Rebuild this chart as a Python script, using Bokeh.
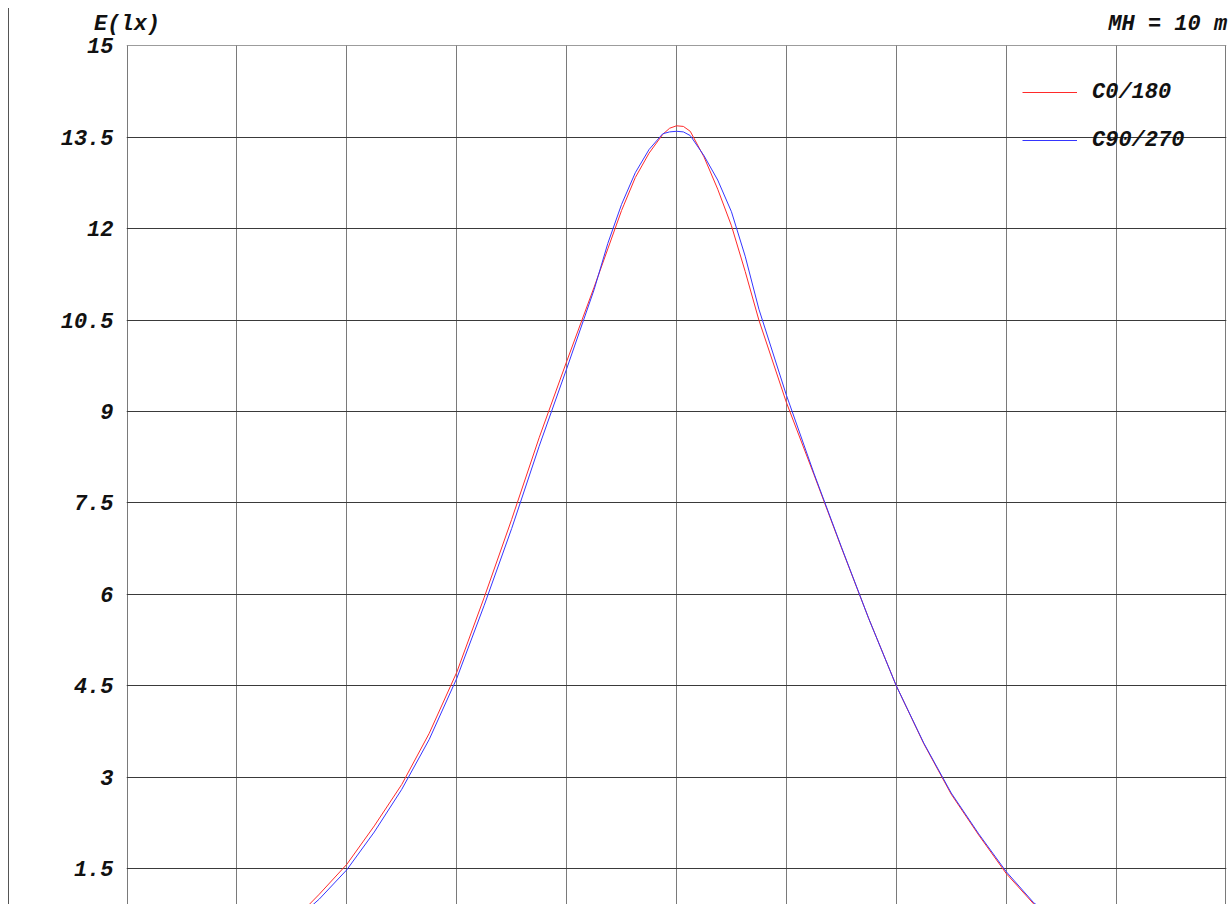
from bokeh.plotting import figure
from bokeh.models import Range1d, FixedTicker, Legend, LegendItem, LinearAxis
from bokeh.embed import file_html
from bokeh.resources import INLINE

# distance from luminaire (grid units) and illuminance values
x_pos = [-3.5, -3.25, -3.0, -2.75, -2.5, -2.25, -2.0, -1.75, -1.5, -1.25, -1.0,
         -0.75, -0.625, -0.5, -0.375, -0.25, -0.125, -0.0625, 0.0, 0.0625, 0.125,
         0.25, 0.375, 0.5, 0.625, 0.75, 1.0, 1.25, 1.5, 1.75, 2.0, 2.25, 2.5,
         2.75, 3.0, 3.25, 3.5]
c0_180 = [0.62, 1.08, 1.57, 2.2, 2.88, 3.72, 4.72, 5.95, 7.23, 8.57, 9.82,
          11.04, 11.67, 12.3, 12.84, 13.24, 13.55, 13.65, 13.69, 13.68, 13.6,
          13.18, 12.65, 12.05, 11.3, 10.5, 9.15, 7.97, 6.77, 5.6, 4.5, 3.55, 2.72,
          2.05, 1.42, 0.92, 0.58]
c90_270 = [0.6, 1.0, 1.48, 2.1, 2.8, 3.62, 4.62, 5.82, 7.08, 8.43, 9.7,
           11.0, 11.76, 12.4, 12.92, 13.3, 13.56, 13.59, 13.6, 13.59, 13.53,
           13.2, 12.8, 12.28, 11.55, 10.68, 9.27, 7.99, 6.78, 5.6, 4.5, 3.56, 2.74,
           2.07, 1.45, 0.94, 0.6]

y_ticks = [1.5, 3, 4.5, 6, 7.5, 9, 10.5, 12, 13.5, 15]
y_tick_labels = ["1.5", "3", "4.5", "6", "7.5", "9", "10.5", "12", "13.5", "15"]
x_grid = [-5, -4, -3, -2, -1, 0, 1, 2, 3, 4, 5]
series_names = ["C0/180", "C90/270"]
y_title = "E(lx)"
height_note = "MH = 10 m"
header_ticks = [-5, 4.47]

FONT = "Liberation Mono"
FS = "22px"

p = figure(width=1223, height=896, output_backend="svg", toolbar_location=None,
           x_range=Range1d(-5.005, 5.005), y_range=Range1d(0.91, 15.008),
           min_border_left=117, min_border_right=6, min_border_top=37,
           min_border_bottom=0)
p.outline_line_color = None
p.background_fill_color = "white"
p.border_fill_color = "white"
p.styles = {"margin-left": "8px", "margin-top": "8px",
            "border-left": "1px solid #555555"}

p.xaxis.visible = False
p.xgrid.ticker = FixedTicker(ticks=x_grid)
p.xgrid.grid_line_color = "#7a7a7a"
p.xgrid.grid_line_width = 1

yax = p.yaxis[0]
yax.ticker = FixedTicker(ticks=y_ticks)
yax.major_label_overrides = {t: s for t, s in zip(y_ticks, y_tick_labels)}
yax.axis_line_color = None
yax.major_tick_line_color = None
yax.minor_tick_line_color = None
yax.major_label_standoff = 7
yax.major_label_text_font = FONT
yax.major_label_text_font_style = "bold italic"
yax.major_label_text_font_size = FS
yax.major_label_text_color = "#111111"
p.ygrid.ticker = FixedTicker(ticks=y_ticks)
p.ygrid.grid_line_color = "#3a3a3a"
p.ygrid.grid_line_width = 1

# header texts (unit label and mounting height) as an axis above the frame
top_ax = LinearAxis(ticker=FixedTicker(ticks=header_ticks),
                    major_label_overrides={header_ticks[0]: y_title,
                                           header_ticks[1]: height_note},
                    axis_line_color=None, major_tick_line_color=None,
                    minor_tick_line_color=None, major_label_standoff=3,
                    major_label_text_font=FONT,
                    major_label_text_font_style="bold italic",
                    major_label_text_font_size=FS,
                    major_label_text_color="#111111")
p.add_layout(top_ax, "above")

r1 = p.line(x_pos, c0_180, line_color="#ff2a2a", line_width=1)
r2 = p.line(x_pos, c90_270, line_color="#3535ff", line_width=1)

legend = Legend(items=[LegendItem(label=series_names[0], renderers=[r1]),
                       LegendItem(label=series_names[1], renderers=[r2])],
                location=(896, 751), glyph_width=55, glyph_height=26,
                label_height=26, spacing=22, padding=0, margin=0,
                label_standoff=15, border_line_color=None,
                background_fill_alpha=0, label_text_font=FONT,
                label_text_font_style="bold italic", label_text_font_size=FS,
                label_text_color="#111111")
p.add_layout(legend)

open("out.html", "w").write(file_html(p, INLINE))
